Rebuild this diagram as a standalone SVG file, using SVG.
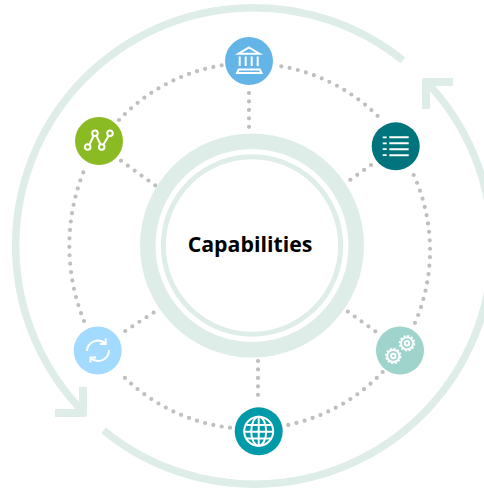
<svg xmlns="http://www.w3.org/2000/svg" width="484" height="489" viewBox="0 0 484 489">
<style>
.band{fill:none;stroke:#deede8}
.head{fill:#deede8}
.dots{fill:none;stroke:#bfbfbf;stroke-width:4.200;stroke-linecap:round;stroke-dasharray:0 8.45}
.ic{fill:none;stroke:#fff;stroke-width:2}
.icf{fill:#fff}
</style>
<rect width="484" height="489" fill="#fff"/>
<g id="cycle">
<path class="band" stroke-width="7.500" d="M402.900 60.300A238 238 0 0 0 83.700 412.300"/>
<path class="band" stroke-width="7.500" d="M103.500 430.400A238 238 0 0 0 426.250 81.750"/>
<path class="head" d="M79 387H87V415Q87 417 85 417H55V409H79Z"/>
<path class="head" d="M422 109H430V86H453V78H424Q422 78 422 80Z"/>
</g>
<g id="connectors">
<path class="dots" d="M281.300 66.300A182 182 0 0 1 379 117.300"/>
<path class="dots" d="M413.700 175A182 182 0 0 1 414 325"/>
<path class="dots" d="M382.700 372A182 182 0 0 1 286.300 425.300"/>
<path class="dots" d="M230 427.700A182 182 0 0 1 124 377"/>
<path class="dots" d="M84 321A200 200 0 0 1 84 170.700"/>
<path class="dots" d="M119 120A182 182 0 0 1 223.700 65"/>
<path class="dots" d="M249 93V128"/>
<path class="dots" d="M371 165L350 180"/>
<path class="dots" d="M121 160.700L156 186"/>
<path class="dots" d="M125.300 331L154 312.300"/>
<path class="dots" d="M375.300 331.300L347 311"/>
<path class="dots" d="M258 361V396"/>
</g>
<g id="center">
<circle class="band" cx="252" cy="245.500" r="104.250" stroke-width="15.500"/>
<circle class="band" cx="252" cy="245.500" r="88.700" stroke-width="5"/>
<text x="250" y="252" text-anchor="middle" font-family="'Open Sans','Noto Sans',sans-serif" font-weight="700" font-size="21.300" fill="#000">Capabilities</text>
</g>
<g id="node-bank">
<circle cx="249" cy="61" r="24" fill="#63b5e8"/>
<path class="ic" stroke-width="1.400" d="M249 47.500L259.500 53.700H238.500Z"/>
<path class="ic" stroke-width="1.800" d="M239.700 56.500V66M245.700 56.500V66M251.700 56.500V66M257.700 56.500V66"/>
<path class="ic" stroke-width="1.300" d="M238.700 69.500H259.700L261.500 73H237Z"/>
</g>
<g id="node-list">
<circle cx="395.700" cy="146.300" r="24" fill="#00747c"/>
<path class="ic" stroke-width="1.800" d="M389.300 137.300H408.700M389.300 143.300H408.700M389.300 149.200H408.700M389.300 155.200H408.700"/>
<path class="icf" d="M382.700 136.400H386.700V138.200H382.700ZM382.700 142.400H386.700V144.200H382.700ZM382.700 148.300H386.700V150.100H382.700ZM382.700 154.300H386.700V156.100H382.700Z"/>
</g>
<g id="node-chart">
<circle cx="99" cy="141" r="24" fill="#8abb23"/>
<path class="ic" d="M89.500 144.500L93.500 136M96.500 136L100.500 144.500M103.500 144.500L108.500 136"/>
<circle class="ic" cx="87.700" cy="147" r="2.800"/>
<circle class="ic" cx="95" cy="133.300" r="2.800"/>
<circle class="ic" cx="101.700" cy="147" r="2.800"/>
<circle class="ic" cx="110" cy="133.300" r="2.800"/>
</g>
<g id="node-refresh">
<circle cx="97.700" cy="350.500" r="24" fill="#a3daff"/>
<path class="ic" stroke-width="1.800" d="M87 351A11 11 0 0 1 105.500 343.500M109 350A11 11 0 0 1 90.500 358"/>
<path class="ic" stroke-width="1.800" d="M105.700 338.500V344H100M90.500 362.500V357.500H96"/>
</g>
<g id="node-gears">
<circle cx="400" cy="350.500" r="24" fill="#9fd4cd"/>
<circle cx="407" cy="343.300" r="6" fill="none" stroke="#fff" stroke-width="1.800"/>
<circle cx="407" cy="343.300" r="7.300" fill="none" stroke="#fff" stroke-width="1.800" stroke-dasharray="2.200 1.620"/>
<circle cx="407" cy="343.300" r="2.200" class="ic" stroke-width="1.500"/>
<circle cx="393.300" cy="356" r="6" fill="none" stroke="#fff" stroke-width="1.800"/>
<circle cx="393.300" cy="356" r="7.300" fill="none" stroke="#fff" stroke-width="1.800" stroke-dasharray="2.200 1.620"/>
<circle cx="393.300" cy="356" r="2.200" class="ic" stroke-width="1.500"/>
</g>
<g id="node-globe">
<circle cx="258.700" cy="431.300" r="24" fill="#009aa8"/>
<circle class="ic" cx="258.700" cy="431.300" r="14.500"/>
<ellipse class="ic" stroke-width="1.600" cx="258.700" cy="431.300" rx="7.500" ry="14.500"/>
<path class="ic" stroke-width="1.600" d="M258.700 417V446M244.500 431.800H273M246.500 425H271M246.500 438.500H271"/>
</g>
</svg>
